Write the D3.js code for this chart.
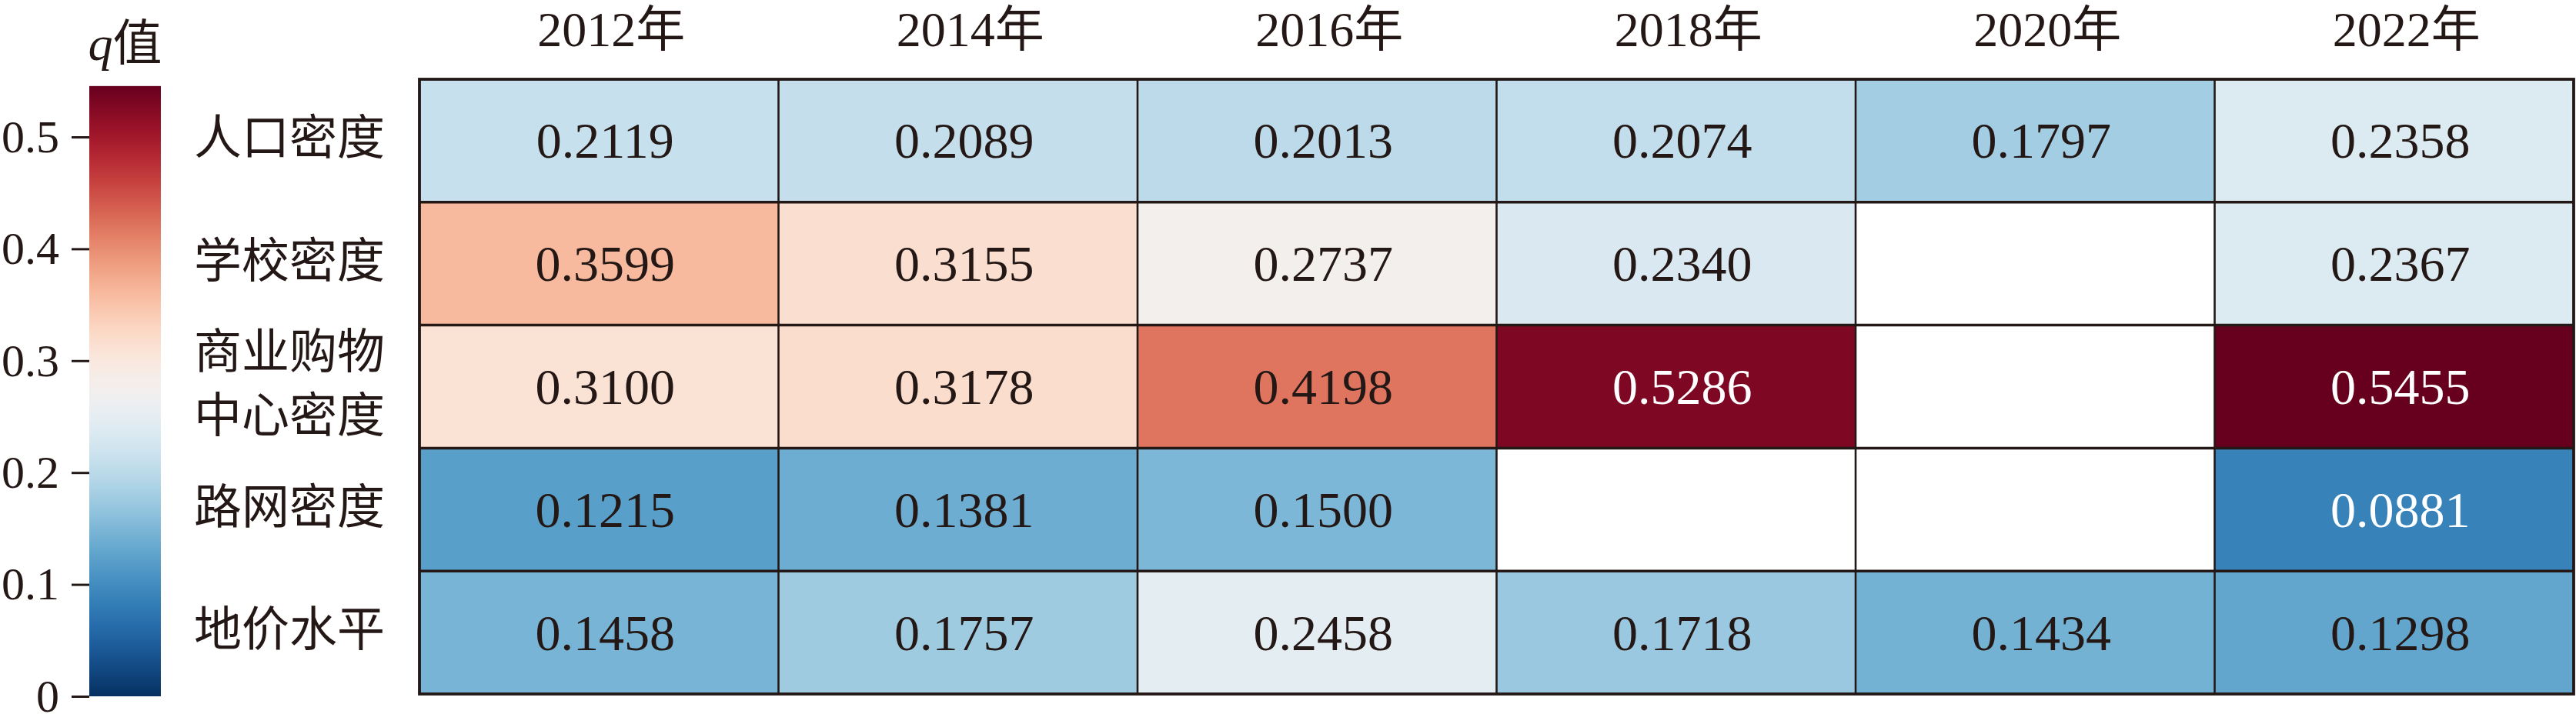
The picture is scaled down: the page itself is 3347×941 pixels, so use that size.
<!DOCTYPE html>
<html>
<head>
<meta charset="utf-8">
<script src="https://cdn.jsdelivr.net/npm/d3@7"></script>
<style>
  html, body { margin: 0; padding: 0; background: #fff; }
  svg { display: block; }
  text { font-family: "Liberation Serif", "Times New Roman", "Noto Sans CJK SC", serif; fill: #231815; }
</style>
</head>
<body>
<svg id="chart" width="3347" height="941"></svg>
<script>
// ---- data ----
const years = ["2012年", "2014年", "2016年", "2018年", "2020年", "2022年"];
const factors = ["人口密度", "学校密度", "商业购物中心密度", "路网密度", "地价水平"];
const factorLines = [["人口密度"], ["学校密度"], ["商业购物", "中心密度"], ["路网密度"], ["地价水平"]];
const popDensity    = [0.2119, 0.2089, 0.2013, 0.2074, 0.1797, 0.2358];
const schoolDensity = [0.3599, 0.3155, 0.2737, 0.2340, null,   0.2367];
const mallDensity   = [0.3100, 0.3178, 0.4198, 0.5286, null,   0.5455];
const roadDensity   = [0.1215, 0.1381, 0.1500, null,   null,   0.0881];
const landPrice     = [0.1458, 0.1757, 0.2458, 0.1718, 0.1434, 0.1298];
const colorbarTicks = [0, 0.1, 0.2, 0.3, 0.4, 0.5];
const legendTitle = "值";

const seriesRows = [popDensity, schoolDensity, mallDensity, roadDensity, landPrice];
const cells = [];
seriesRows.forEach((row, i) => row.forEach((v, j) => cells.push({ factor: factors[i], year: years[j], v })));

const vmax = d3.max(cells, d => d.v);
const color = d3.scaleSequential(t => d3.interpolateRdBu(1 - t)).domain([0, vmax]);

const svg = d3.select("#chart");
const ink = "#231815";

// ---- grid ----
const x = d3.scaleBand().domain(years).range([545, 3344]).padding(0);
const y = d3.scaleBand().domain(factors).range([103, 902]).padding(0);

const g = svg.append("g");
g.selectAll("rect.cell").data(cells).enter().append("rect")
  .attr("class", "cell")
  .attr("x", d => x(d.year)).attr("y", d => y(d.factor))
  .attr("width", x.bandwidth()).attr("height", y.bandwidth())
  .attr("fill", d => d.v == null ? "#ffffff" : color(d.v));

g.selectAll("text.val").data(cells.filter(d => d.v != null)).enter().append("text")
  .attr("class", "val")
  .attr("x", d => x(d.year) + x.bandwidth() / 2 + 8)
  .attr("y", d => y(d.factor) + y.bandwidth() / 2)
  .attr("dy", "0.34em")
  .attr("text-anchor", "middle")
  .style("font-size", "66px")
  .style("fill", d => (d.v > 0.5 || d.v < 0.1) ? "#ffffff" : ink)
  .text(d => d.v.toFixed(4));

// inner lines
g.selectAll("line.h").data(factors.slice(1)).enter().append("line")
  .attr("x1", x.range()[0]).attr("x2", x.range()[1])
  .attr("y1", d => y(d)).attr("y2", d => y(d))
  .attr("stroke", ink).attr("stroke-width", 3.5);
g.selectAll("line.v").data(years.slice(1)).enter().append("line")
  .attr("y1", y.range()[0]).attr("y2", y.range()[1])
  .attr("x1", d => x(d)).attr("x2", d => x(d))
  .attr("stroke", ink).attr("stroke-width", 2.6);
g.append("rect")
  .attr("x", x.range()[0]).attr("y", y.range()[0])
  .attr("width", x.range()[1] - x.range()[0]).attr("height", y.range()[1] - y.range()[0])
  .attr("fill", "none").attr("stroke", ink).attr("stroke-width", 3.8);

// column headers
svg.selectAll("text.year").data(years).enter().append("text")
  .attr("x", d => x(d) + x.bandwidth() / 2 + 16)
  .attr("y", 60)
  .attr("text-anchor", "middle")
  .style("font-size", "64px")
  .text(d => d);

// row labels
const rowLab = svg.selectAll("g.rowlab").data(factors).enter().append("g")
  .attr("transform", d => `translate(252, ${y(d) + y.bandwidth() / 2 - 4})`);
rowLab.each(function (d, i) {
  const lines = factorLines[i];
  const lh = 83;
  d3.select(this).selectAll("text").data(lines).enter().append("text")
    .attr("x", 0)
    .attr("y", (l, k) => (k - (lines.length - 1) / 2) * lh)
    .attr("dy", "0.36em")
    .style("font-size", "62px")
    .style("font-family", "'Noto Sans CJK SC', sans-serif")
    .text(l => l);
});

// ---- colorbar ----
const cbX = 116, cbW = 93;
const cy = d3.scaleLinear().domain([0, 0.5]).range([905, 178]);
const defs = svg.append("defs");
const grad = defs.append("linearGradient").attr("id", "cbgrad")
  .attr("x1", 0).attr("y1", 1).attr("x2", 0).attr("y2", 0);
d3.range(0, 1.0001, 0.02).forEach(t => {
  grad.append("stop").attr("offset", t).attr("stop-color", color(t * vmax));
});
svg.append("rect")
  .attr("x", cbX).attr("y", cy(vmax))
  .attr("width", cbW).attr("height", cy(0) - cy(vmax))
  .attr("fill", "url(#cbgrad)");

const axis = d3.axisLeft(cy).tickValues(colorbarTicks)
  .tickFormat(d => d === 0 ? "0" : d.toFixed(1))
  .tickSize(23).tickPadding(16);
const ax = svg.append("g").attr("transform", `translate(${cbX},0)`).call(axis);
ax.select(".domain").remove();
ax.selectAll(".tick line").attr("stroke", ink).attr("stroke-width", 3);
ax.selectAll(".tick text")
  .style("font-size", "60px")
  .style("font-family", "'Liberation Serif', serif")
  .attr("fill", ink);

// legend title
const title = svg.append("text")
  .attr("x", cbX + cbW / 2).attr("y", 78)
  .attr("text-anchor", "middle")
  .style("font-size", "64px");
title.append("tspan").style("font-style", "italic").style("font-family", "'Liberation Serif', serif").text("q");
title.append("tspan").style("font-family", "'Noto Sans CJK SC', sans-serif").text(legendTitle);
</script>
</body>
</html>
